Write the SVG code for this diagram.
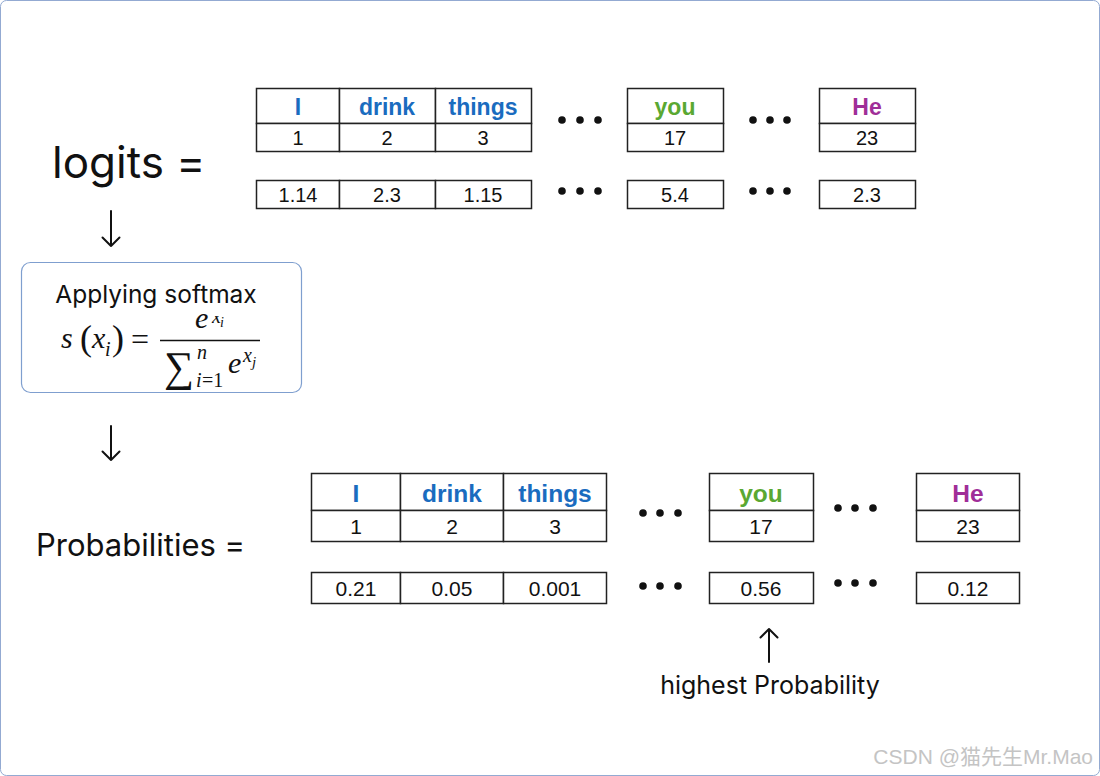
<svg xmlns="http://www.w3.org/2000/svg" width="1100" height="776" viewBox="0 0 1100 776">
<defs>
<style>
.cell{fill:#fff;stroke:#222;stroke-width:1.5}
.hd{font-family:"Liberation Sans",Arial,sans-serif;font-weight:bold;text-anchor:middle}
.blue{fill:#1a6cbf}
.green{fill:#5aa832}
.purple{fill:#a02e98}
.num{font-family:"Liberation Sans",Arial,sans-serif;fill:#111;text-anchor:middle}
.lbl{font-family:Inter,"Noto Sans",sans-serif;fill:#111}
.dot{fill:#111}
.arr{fill:none;stroke:#111;stroke-width:2;stroke-linecap:round;stroke-linejoin:round}
.math{font-family:"Liberation Serif","Times New Roman",serif;font-style:italic;fill:#111}
.mathr{font-family:"Liberation Serif","Times New Roman",serif;fill:#111}
</style>
<clipPath id="numclip"><rect x="190" y="316" width="80" height="26"/></clipPath>
</defs>
<rect x="0.5" y="0.5" width="1099" height="775" rx="6" fill="#fff" stroke="#93aad2" stroke-width="1"/>

<g id="logits-label"><text class="lbl" x="52" y="178" font-size="44">logits =</text></g>

<g id="top-table">
<rect class="cell" x="256.5" y="88.5" width="83" height="35"/>
<rect class="cell" x="339.5" y="88.5" width="96" height="35"/>
<rect class="cell" x="435.5" y="88.5" width="96" height="35"/>
<rect class="cell" x="256.5" y="123.5" width="83" height="28"/>
<rect class="cell" x="339.5" y="123.5" width="96" height="28"/>
<rect class="cell" x="435.5" y="123.5" width="96" height="28"/>
<text class="hd blue" x="298" y="115" font-size="23">I</text>
<text class="hd blue" x="387" y="115" font-size="23">drink</text>
<text class="hd blue" x="483" y="115" font-size="23">things</text>
<text class="num" x="298" y="145" font-size="20">1</text>
<text class="num" x="387" y="145" font-size="20">2</text>
<text class="num" x="483" y="145" font-size="20">3</text>
<rect class="cell" x="627.5" y="88.5" width="96" height="35"/>
<rect class="cell" x="627.5" y="123.5" width="96" height="28"/>
<text class="hd green" x="675" y="115" font-size="23">you</text>
<text class="num" x="675" y="145" font-size="20">17</text>
<rect class="cell" x="819.5" y="88.5" width="96" height="35"/>
<rect class="cell" x="819.5" y="123.5" width="96" height="28"/>
<text class="hd purple" x="867" y="115" font-size="23">He</text>
<text class="num" x="867" y="145" font-size="20">23</text>
<circle class="dot" cx="562" cy="120" r="3.8"/><circle class="dot" cx="580" cy="120" r="3.8"/><circle class="dot" cx="598" cy="120" r="3.8"/>
<circle class="dot" cx="753" cy="120" r="3.8"/><circle class="dot" cx="770" cy="120" r="3.8"/><circle class="dot" cx="787" cy="120" r="3.8"/>
</g>

<g id="top-values">
<rect class="cell" x="256.5" y="180.5" width="83" height="28"/>
<rect class="cell" x="339.5" y="180.5" width="96" height="28"/>
<rect class="cell" x="435.5" y="180.5" width="96" height="28"/>
<rect class="cell" x="627.5" y="180.5" width="96" height="28"/>
<rect class="cell" x="819.5" y="180.5" width="96" height="28"/>
<text class="num" x="298" y="202" font-size="20">1.14</text>
<text class="num" x="387" y="202" font-size="20">2.3</text>
<text class="num" x="483" y="202" font-size="20">1.15</text>
<text class="num" x="675" y="202" font-size="20">5.4</text>
<text class="num" x="867" y="202" font-size="20">2.3</text>
<circle class="dot" cx="562" cy="191" r="3.8"/><circle class="dot" cx="580" cy="191" r="3.8"/><circle class="dot" cx="598" cy="191" r="3.8"/>
<circle class="dot" cx="753" cy="191" r="3.8"/><circle class="dot" cx="770" cy="191" r="3.8"/><circle class="dot" cx="787" cy="191" r="3.8"/>
</g>

<g id="connectors">
<path class="arr" d="M111 211 V246 M102.5 237.5 L111 246 L119.5 237.5"/>
<path class="arr" d="M111 426 V460 M102.5 451.5 L111 460 L119.5 451.5"/>
<path class="arr" d="M769 629 V662 M760.5 637.5 L769 629 L777.5 637.5"/>
</g>

<g id="softmax">
<rect x="21.5" y="262.5" width="280" height="130" rx="9" fill="#fff" stroke="#7f9fcf" stroke-width="1.2"/>
<text class="lbl" x="156" y="303" font-size="24.5" text-anchor="middle">Applying softmax</text>
<text class="math" x="61" y="348" font-size="30">s</text>
<text class="mathr" x="80" y="350" font-size="36">(</text>
<text class="math" x="92" y="348" font-size="30">x</text>
<text class="math" x="105" y="356" font-size="20">i</text>
<text class="mathr" x="112" y="350" font-size="36">)</text>
<text class="mathr" x="131" y="350" font-size="32">=</text>
<line x1="160" y1="340.5" x2="260" y2="340.5" stroke="#111" stroke-width="1.6"/>
<text class="math" x="195" y="328" font-size="30">e</text>
<g clip-path="url(#numclip)"><text class="math" x="212" y="323" font-size="20">x</text><text class="math" x="220" y="327" font-size="14">i</text></g>
<text class="mathr" x="164" y="381" font-size="42">∑</text>
<text class="math" x="197" y="359" font-size="20">n</text>
<text class="math" x="196" y="387" font-size="20">i</text>
<text class="mathr" x="202" y="387" font-size="20">=1</text>
<text class="math" x="228" y="373" font-size="30">e</text>
<text class="math" x="243" y="362" font-size="20">x</text>
<text class="math" x="252" y="367" font-size="15">j</text>
</g>

<g id="prob-label"><text class="lbl" x="36" y="556" font-size="31">Probabilities =</text></g>

<g id="bottom-table">
<rect class="cell" x="311.5" y="473.5" width="89" height="37"/>
<rect class="cell" x="400.5" y="473.5" width="103" height="37"/>
<rect class="cell" x="503.5" y="473.5" width="103" height="37"/>
<rect class="cell" x="311.5" y="510.5" width="89" height="31"/>
<rect class="cell" x="400.5" y="510.5" width="103" height="31"/>
<rect class="cell" x="503.5" y="510.5" width="103" height="31"/>
<text class="hd blue" x="356" y="502" font-size="24.5">I</text>
<text class="hd blue" x="452" y="502" font-size="24.5">drink</text>
<text class="hd blue" x="555" y="502" font-size="24.5">things</text>
<text class="num" x="356" y="534" font-size="21">1</text>
<text class="num" x="452" y="534" font-size="21">2</text>
<text class="num" x="555" y="534" font-size="21">3</text>
<rect class="cell" x="709.5" y="473.5" width="104" height="37"/>
<rect class="cell" x="709.5" y="510.5" width="104" height="31"/>
<text class="hd green" x="761" y="502" font-size="24.5">you</text>
<text class="num" x="761" y="534" font-size="21">17</text>
<rect class="cell" x="916.5" y="473.5" width="103" height="37"/>
<rect class="cell" x="916.5" y="510.5" width="103" height="31"/>
<text class="hd purple" x="968" y="502" font-size="24.5">He</text>
<text class="num" x="968" y="534" font-size="21">23</text>
<circle class="dot" cx="643" cy="513" r="3.8"/><circle class="dot" cx="660" cy="513" r="3.8"/><circle class="dot" cx="678" cy="513" r="3.8"/>
<circle class="dot" cx="838" cy="508" r="3.8"/><circle class="dot" cx="855" cy="508" r="3.8"/><circle class="dot" cx="873" cy="508" r="3.8"/>
</g>

<g id="bottom-values">
<rect class="cell" x="311.5" y="572.5" width="89" height="31"/>
<rect class="cell" x="400.5" y="572.5" width="103" height="31"/>
<rect class="cell" x="503.5" y="572.5" width="103" height="31"/>
<rect class="cell" x="709.5" y="572.5" width="104" height="31"/>
<rect class="cell" x="916.5" y="572.5" width="103" height="31"/>
<text class="num" x="356" y="596" font-size="21">0.21</text>
<text class="num" x="452" y="596" font-size="21">0.05</text>
<text class="num" x="555" y="596" font-size="21">0.001</text>
<text class="num" x="761" y="596" font-size="21">0.56</text>
<text class="num" x="968" y="596" font-size="21">0.12</text>
<circle class="dot" cx="643" cy="586" r="3.8"/><circle class="dot" cx="660" cy="586" r="3.8"/><circle class="dot" cx="678" cy="586" r="3.8"/>
<circle class="dot" cx="838" cy="583" r="3.8"/><circle class="dot" cx="855" cy="583" r="3.8"/><circle class="dot" cx="873" cy="583" r="3.8"/>
</g>

<g id="highest-label"><text class="lbl" x="770" y="694" font-size="25" text-anchor="middle">highest Probability</text></g>

<g id="watermark"><text x="1093" y="764" font-size="21" fill="#c4c4c4" text-anchor="end" font-family="'Liberation Sans','Noto Sans CJK SC',sans-serif">CSDN @猫先生Mr.Mao</text></g>
</svg>
